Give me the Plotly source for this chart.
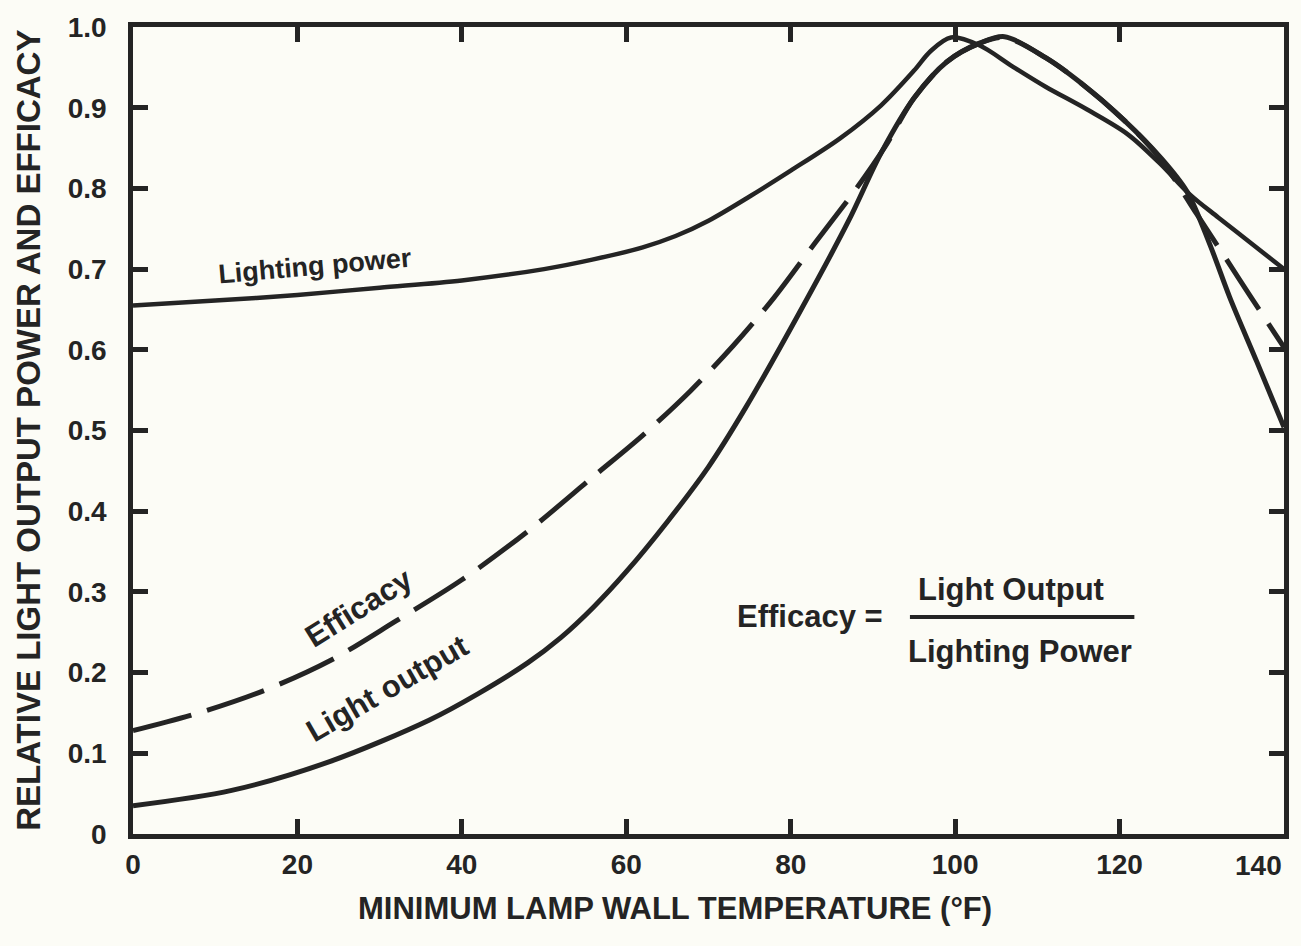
import plotly.graph_objects as go

# Minimum lamp wall temperature (°F) and relative values
power_x = [0, 10, 20, 30, 40, 50, 56, 62, 66, 70, 75, 80, 86, 91, 95, 97, 99.5, 103, 107, 111, 116, 121, 125, 128.5, 132, 136, 140]
power_y = [0.655, 0.661, 0.668, 0.677, 0.686, 0.700, 0.712, 0.727, 0.741, 0.760, 0.790, 0.822, 0.862, 0.903, 0.946, 0.970, 0.987, 0.977, 0.951, 0.926, 0.898, 0.867, 0.830, 0.793, 0.764, 0.732, 0.700]

output_x = [0, 12, 24, 36, 42, 48, 52, 56, 60, 65, 70, 74.5, 81, 87, 91, 95, 99, 103, 106, 111, 115, 120.6, 125, 128.2, 131, 133.4, 136.7, 140]
output_y = [0.035, 0.054, 0.090, 0.141, 0.174, 0.212, 0.243, 0.281, 0.325, 0.387, 0.455, 0.528, 0.645, 0.759, 0.844, 0.912, 0.957, 0.980, 0.988, 0.962, 0.933, 0.884, 0.838, 0.796, 0.730, 0.665, 0.585, 0.504]

efficacy_x = [0, 8, 16, 24, 32, 40, 48, 56, 62, 67.8, 73, 78, 83, 88, 91.5, 95, 99, 103, 106, 111, 115, 120.6, 125, 129.4, 133, 136, 140]
efficacy_y = [0.128, 0.150, 0.178, 0.215, 0.264, 0.315, 0.375, 0.443, 0.494, 0.549, 0.605, 0.665, 0.733, 0.800, 0.852, 0.912, 0.957, 0.980, 0.987, 0.962, 0.933, 0.884, 0.836, 0.768, 0.712, 0.665, 0.603]

x_ticks = [0, 20, 40, 60, 80, 100, 120, 140]
x_tick_text = ["0", "20", "40", "60", "80", "100", "120", ""]
x_end_label = "140"
y_ticks = [0, 0.1, 0.2, 0.3, 0.4, 0.5, 0.6, 0.7, 0.8, 0.9, 1.0]
y_tick_text = ["0", "0.1", "0.2", "0.3", "0.4", "0.5", "0.6", "0.7", "0.8", "0.9", "1.0"]

INK = "#242424"
FONT = "Liberation Sans"
BG = "#fcfcf6"

fig = go.Figure()
fig.add_trace(go.Scatter(x=power_x, y=power_y, mode="lines", name="Lighting power",
                         line=dict(color=INK, width=4.5, shape="spline", smoothing=0.9)))
fig.add_trace(go.Scatter(x=output_x, y=output_y, mode="lines", name="Light output",
                         line=dict(color=INK, width=5, shape="spline", smoothing=0.9)))
fig.add_trace(go.Scatter(x=efficacy_x, y=efficacy_y, mode="lines", name="Efficacy",
                         line=dict(color=INK, width=5, dash="60px,17px", shape="spline", smoothing=0.9)))

tick_font = dict(family=FONT, size=28, color=INK, weight="bold")
axis_common = dict(
    showline=True, linecolor=INK, linewidth=4.5, mirror="allticks",
    ticks="inside", ticklen=15, tickwidth=4.5, tickcolor=INK,
    showgrid=False, zeroline=False, tickfont=tick_font,
)

fig.update_xaxes(range=[0, 140], tickvals=x_ticks, ticktext=x_tick_text,
                 ticklabelstandoff=2, **axis_common)
fig.update_yaxes(range=[0, 1.0], tickvals=y_ticks, ticktext=y_tick_text,
                 ticklabelstandoff=16, **axis_common)

# The last x label sits flush with the right frame
fig.add_annotation(x=140, xref="x", yref="paper", y=-0.017, text=x_end_label, showarrow=False,
                   font=tick_font, xanchor="right", yanchor="top")

# Axis titles
fig.add_annotation(xref="paper", yref="paper", x=0.4705, y=-0.0925,
                   text="MINIMUM LAMP WALL TEMPERATURE (°F)", showarrow=False,
                   font=dict(family=FONT, size=31, color=INK, weight="bold"),
                   xanchor="center", yanchor="middle")
fig.add_annotation(xref="paper", yref="paper", x=-0.091, y=0.5,
                   text="RELATIVE LIGHT OUTPUT POWER AND EFFICACY", showarrow=False, textangle=-90,
                   font=dict(family=FONT, size=33, color=INK, weight="bold"),
                   xanchor="center", yanchor="middle")

# Curve labels
fig.add_annotation(x=22.1, y=0.704, text="Lighting power", showarrow=False, textangle=-5,
                   font=dict(family=FONT, size=27, color=INK, weight="bold"),
                   xanchor="center", yanchor="middle")
fig.add_annotation(x=27.5, y=0.281, text="Efficacy", showarrow=False, textangle=-32,
                   font=dict(family=FONT, size=31, color=INK, weight="bold"),
                   xanchor="center", yanchor="middle")
fig.add_annotation(x=30.9, y=0.180, text="Light output", showarrow=False, textangle=-30,
                   font=dict(family=FONT, size=31, color=INK, weight="bold"),
                   xanchor="center", yanchor="middle")

# Definition of efficacy as a fraction
formula_font = dict(family=FONT, size=31, color=INK, weight="bold")
fig.add_annotation(x=82.4, y=0.270, text="Efficacy =", showarrow=False,
                   font=formula_font, xanchor="center", yanchor="middle")
fig.add_annotation(x=106.8, y=0.303, text="Light Output", showarrow=False,
                   font=formula_font, xanchor="center", yanchor="middle")
fig.add_annotation(x=107.9, y=0.226, text="Lighting Power", showarrow=False,
                   font=formula_font, xanchor="center", yanchor="middle")
fig.add_shape(type="line", xref="x", yref="y", x0=94.5, x1=121.8, y0=0.269, y1=0.269,
              line=dict(color=INK, width=4))

fig.update_layout(
    width=1301, height=946,
    margin=dict(l=133, r=14, t=12, b=112),
    paper_bgcolor=BG, plot_bgcolor=BG,
    showlegend=False,
)

fig.write_html("out.html")
